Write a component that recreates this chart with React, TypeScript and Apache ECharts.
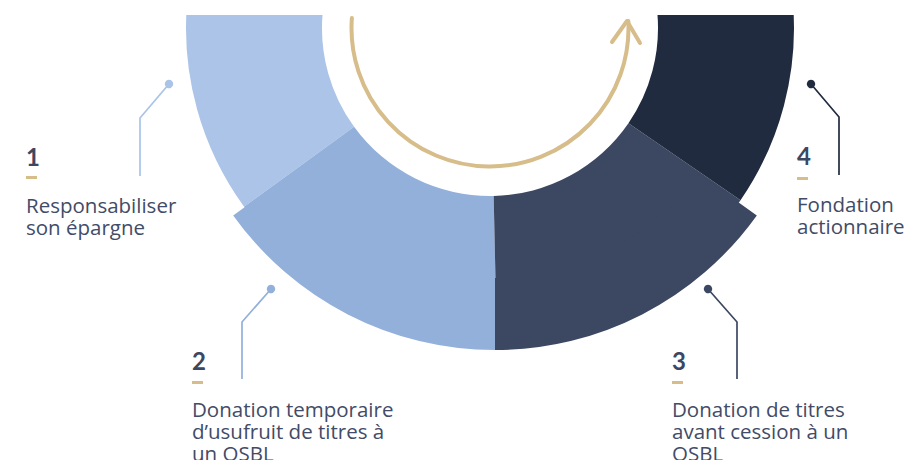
import React, { useEffect, useRef } from "react";
import * as echarts from "echarts";

// ---- data ----
const stepNumbers = ["1", "2", "3", "4"];
const stepLabels = [
  ["Responsabiliser", "son épargne"],
  ["Donation temporaire", "d’usufruit de titres à", "un OSBL"],
  ["Donation de titres", "avant cession à un", "OSBL"],
  ["Fondation", "actionnaire"],
];
// angular span of each step (degrees) and the hidden upper part
const sliceSpans = [41, 55.25, 54.25, 39.5];
const hiddenSpan = 170;
// the two middle steps stand out further
const raisedSpans = [54.4, 54.4];
const raisedHidden = 251.2;

// ---- styles / layout ----
const sliceColors = ["#ABC4E8", "#93B0DB", "#3C4862", "#212B40"];
const raisedColors = ["#93B0DB", "#3C4862"];
const lineColors = ["#A9C3E9", "#93B0DB", "#3C4862", "#212B40"];
const GOLD = "#D6BD8A";
const NUM_COLOR = "#3B4763";
const TEXT_COLOR = "#424B67";
const CX = 490;
const CY = 28;
const R_IN = 168;
const R_OUT = 304;
const RAISED_CX = 495;
const RAISED_R = [250, 322];
const ARROW_R = 138.5;

const labelLayout = [
  { x: 26, numBase: 165, barY: 176, textBase: 213, dot: [169, 84], bend: [140, 118], end: [140, 176] },
  { x: 192, numBase: 369, barY: 381, textBase: 417, dot: [271, 289], bend: [242, 322], end: [242, 379] },
  { x: 672, numBase: 369, barY: 381, textBase: 417, dot: [708, 289], bend: [737, 322], end: [737, 379] },
  { x: 797, numBase: 164, barY: 177, textBase: 212, dot: [811, 84], bend: [839, 117], end: [839, 175] },
];

const TEXT_SIZE = 20.5;
const LINE_H = 22;
const NUM_SIZE = 24;

const hiddenItem = (v: number) => ({ value: v, name: "hidden", itemStyle: { color: "rgba(0,0,0,0)" } });

const common = {
  type: "pie",
  clockwise: false,
  silent: true,
  avoidLabelOverlap: false,
  minAngle: 0,
  label: { show: false },
  labelLine: { show: false },
  emphasis: { disabled: true },
  itemStyle: { borderWidth: 0 },
};

function baseSeries() {
  return {
    ...common,
    center: [CX, CY],
    radius: [R_IN, R_OUT],
    startAngle: 175,
    z: 2,
    data: [
      ...sliceSpans.map((v, i) => ({ value: v, name: stepNumbers[i], itemStyle: { color: sliceColors[i] } })),
      hiddenItem(hiddenSpan),
    ],
  };
}

function raisedSeries() {
  return {
    ...common,
    center: [RAISED_CX, CY],
    radius: RAISED_R,
    startAngle: 215.6,
    z: 3,
    data: [
      ...raisedSpans.map((v, i) => ({ value: v, name: stepNumbers[i + 1], itemStyle: { color: raisedColors[i] } })),
      hiddenItem(raisedHidden),
    ],
  };
}

function textEl(x: number, firstBaseline: number, lines: string[], font: string, size: number, fill: string) {
  return {
    type: "text",
    x,
    y: firstBaseline - LINE_H / 2 - size * 0.37,
    z: 20,
    silent: true,
    style: {
      text: lines.join("\n"),
      font,
      fill,
      lineHeight: LINE_H,
      align: "left",
      verticalAlign: "top",
      textAlign: "left",
      textVerticalAlign: "top",
    },
  };
}

function buildGraphics() {
  const els: any[] = [];
  // clip top of ring
  els.push({ type: "rect", z: 10, silent: true, shape: { x: 0, y: 0, width: 907, height: 15 }, style: { fill: "#ffffff" } });
  // arrow
  els.push({
    type: "arc",
    z: 11,
    silent: true,
    shape: { cx: CX, cy: CY, r: ARROW_R, startAngle: -0.05, endAngle: Math.PI + 0.072, clockwise: true },
    style: { stroke: GOLD, lineWidth: 4, fill: null, lineCap: "round" },
  });
  els.push({
    type: "polyline",
    z: 11,
    silent: true,
    shape: { points: [[612, 42], [627, 21], [640, 43]] },
    style: { stroke: GOLD, lineWidth: 4, fill: null, lineCap: "round", lineJoin: "round" },
  });

  labelLayout.forEach((L, i) => {
    els.push({
      type: "polyline",
      z: 12,
      silent: true,
      shape: { points: [L.dot, L.bend, L.end] },
      style: { stroke: lineColors[i], lineWidth: 1.7, fill: null },
    });
    els.push({
      type: "circle",
      z: 12,
      silent: true,
      shape: { cx: L.dot[0], cy: L.dot[1], r: 4.2 },
      style: { fill: lineColors[i] },
    });
    els.push(textEl(L.x, L.numBase, [stepNumbers[i]], `bold ${NUM_SIZE}px Lato`, NUM_SIZE, NUM_COLOR));
    els.push({
      type: "rect",
      z: 12,
      silent: true,
      shape: { x: L.x, y: L.barY, width: 11, height: 3 },
      style: { fill: GOLD },
    });
    els.push(textEl(L.x, L.textBase, stepLabels[i], `normal 400 ${TEXT_SIZE}px "Open Sans"`, TEXT_SIZE, TEXT_COLOR));
  });
  return els;
}

export default function App() {
  const ref = useRef<HTMLDivElement>(null);
  useEffect(() => {
    if (!ref.current) return;
    const chart = echarts.init(ref.current, null, { renderer: "svg" });
    chart.setOption({
      animation: false,
      backgroundColor: "#ffffff",
      series: [baseSeries(), raisedSeries()],
      graphic: { elements: buildGraphics() },
    });
    return () => chart.dispose();
  }, []);
  return (
    <div
      ref={ref}
      style={{ position: "fixed", left: 0, top: 0, width: 907, height: 460, background: "#fff" }}
    />
  );
}
